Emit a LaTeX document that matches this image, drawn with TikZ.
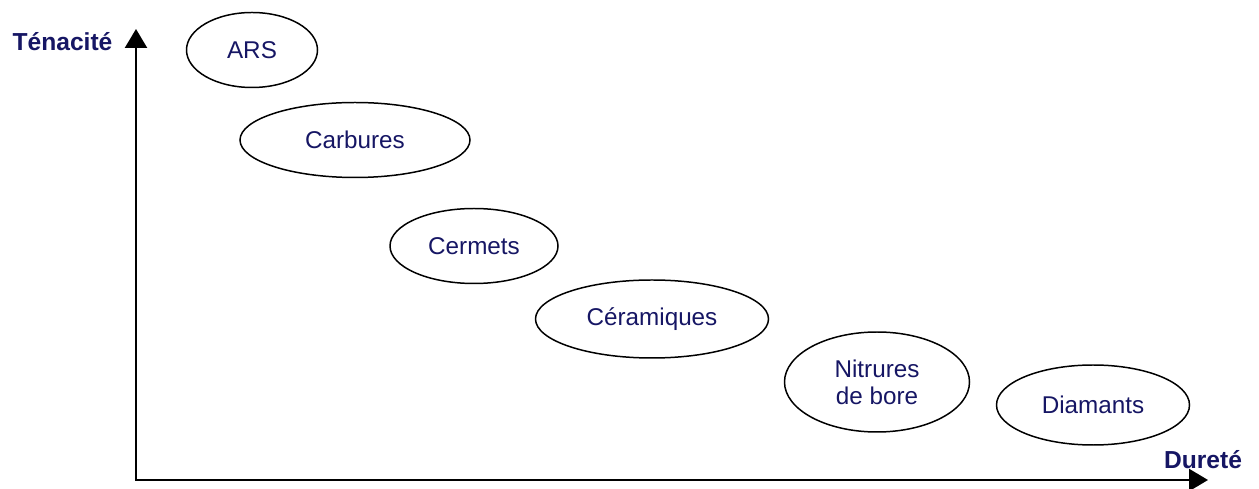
\documentclass[tikz,border=0pt]{standalone}
\usepackage{fontspec}
\setmainfont{Liberation Sans}
\usetikzlibrary{shapes.geometric,arrows.meta}
\definecolor{navy}{RGB}{22,22,100}

\begin{document}
\begin{tikzpicture}[
    every node/.style={text=navy, font=\fontsize{13.8}{15.5}\selectfont},
    famille/.style={ellipse, draw=black, line width=0.85pt, inner sep=0pt, align=center},
    axe/.style={line width=1.4pt, {Triangle[length=10.8pt,width=12.5pt]}-{Triangle[length=10.8pt,width=12.5pt]}},
    titre/.style={font=\fontsize{14}{16}\selectfont\bfseries}]
    \useasboundingbox (0,0) rectangle (25.18,9.76);

    \coordinate (o) at (2.72,0.16);
    \coordinate (ytop) at (2.72,9.18);
    \coordinate (xend) at (24.16,0.16);
    \draw[axe] (ytop) -- (o) -- (xend);

    \node[titre] (ten) at (1.25,8.92) {Ténacité};
    \node[titre] (dur) at (24.06,0.56) {Dureté};

    \node[famille, minimum width=2.62cm, minimum height=1.5cm] (ars) at (5.04,8.76) {ARS};
    \node[famille, minimum width=4.6cm, minimum height=1.5cm] (carb) at (7.10,6.96) {Carbures};
    \node[famille, minimum width=3.36cm, minimum height=1.5cm] (cerm) at (9.48,4.84) {Cermets};
    \node[famille, minimum width=4.66cm, minimum height=1.56cm] (cera) at (13.04,3.38) {Céramiques};
    \node[famille, minimum width=3.7cm, minimum height=2.0cm] (nitr) at (17.54,2.12) {Nitrures\\de bore};
    \node[famille, minimum width=3.86cm, minimum height=1.6cm] (diam) at (21.86,1.66) {Diamants};
  \end{tikzpicture}
\end{document}
